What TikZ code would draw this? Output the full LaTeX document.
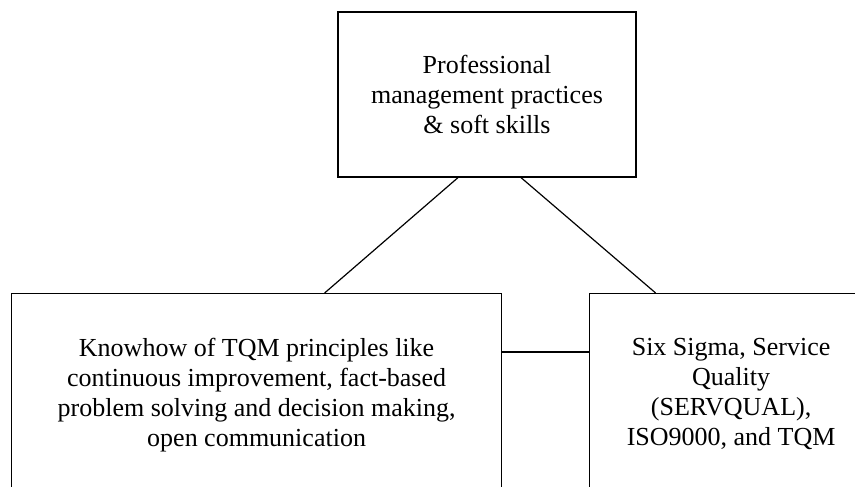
\documentclass[tikz,border=0pt]{standalone}
\usepackage{fontspec}
\setmainfont{Liberation Serif}
\usepackage{tikz}
\usetikzlibrary{positioning}

\begin{document}
\begin{tikzpicture}[x=0.75pt, y=-0.75pt]
    % Styles des cadres et des liaisons
    \tikzset{
        box/.style  = {rectangle, draw, line width=0.9pt, inner sep=0pt},
        txt/.style  = {align=center, inner sep=0pt, font=\fontsize{19.5}{22.5}\selectfont},
        line/.style = {draw, line width=0.9pt}
    }

    \useasboundingbox (0,0) rectangle (855,486);
    \clip (0,0) rectangle (855,486);

    % Cadre du haut
    \node [box, txt, minimum width=223.5pt, minimum height=123.75pt] (soft) at (487,94.5)
        {Professional\\management practices\\\& soft skills};

    % Cadres du bas (ils sortent de la page en bas et a droite)
    \node [box, anchor=north west, minimum width=367.5pt, minimum height=170pt] (tqm) at (11,293) {};
    \node [box, anchor=north west, minimum width=218.25pt, minimum height=170pt] (sigma) at (589,293) {};

    % Textes des cadres du bas
    \node [txt, below=33.5pt of tqm.north] (tqmtext)
        {Knowhow of TQM principles like\\continuous improvement, fact-based\\problem solving and decision making,\\open communication};
    \node [txt, below=33.5pt of sigma.north, xshift=-3pt] (sigmatext)
        {Six Sigma, Service\\Quality\\(SERVQUAL),\\ISO9000, and TQM};

    % Liaisons
    \path [line] ([xshift=-21.75pt]soft.south) -- ([xshift=51pt]tqm.north);
    \path [line] ([xshift=25.5pt]soft.south) -- ([xshift=-59.6pt]sigma.north);
    \path [line] ([yshift=-44.25pt]tqm.north east) -- ([yshift=-44.25pt]sigma.north west);
\end{tikzpicture}
\end{document}
